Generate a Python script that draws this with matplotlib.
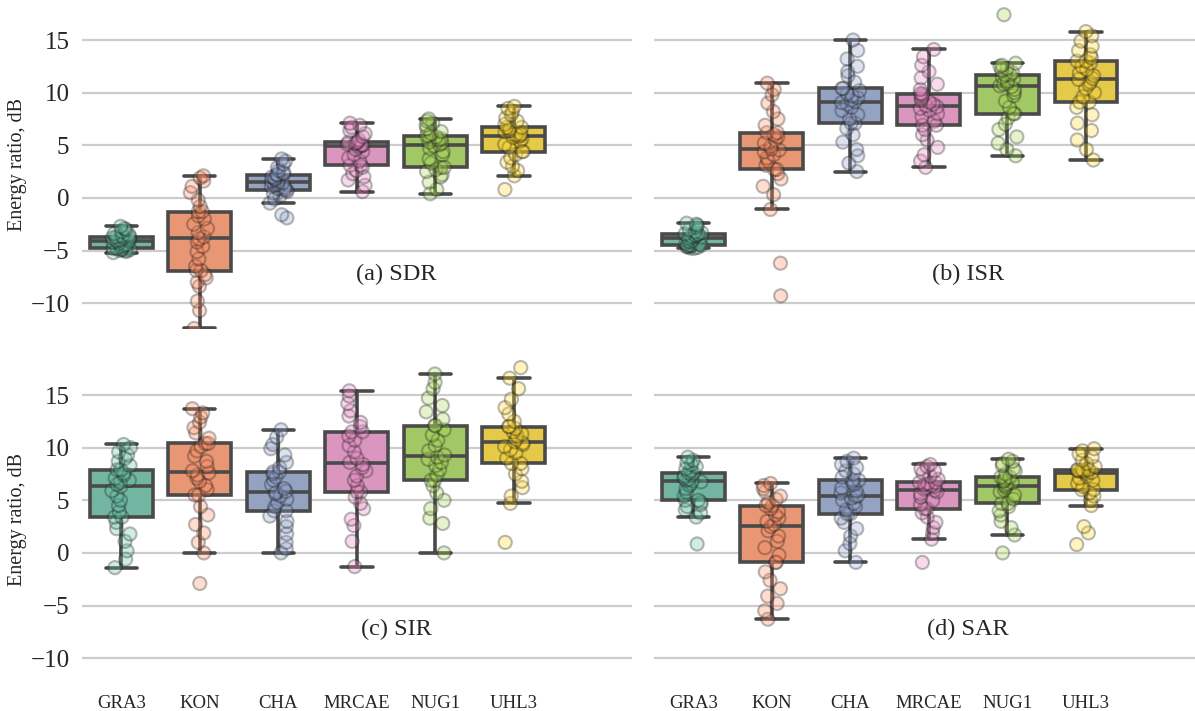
import numpy as np
import pandas as pd
import seaborn as sns
import matplotlib.pyplot as plt

methods = ["GRA3", "KON", "CHA", "MRCAE", "NUG1", "UHL3"]

# -------------- values (dB) ----------------------------------------------
sdr = {
    "GRA3": [-5.2, -5.1, -5.0, -5.0, -4.9, -4.9, -4.85, -4.8, -4.8, -4.6, -4.5, -4.4, -4.3, -4.2, -4.1,
             -4.1, -4.0, -4.0, -3.9, -3.8, -3.8, -3.7, -3.7, -3.6, -3.5, -3.4, -3.2, -3.0, -2.9, -2.7],
    "KON": [-12.4, -10.7, -9.8, -8.4, -8.0, -7.6, -7.3, -6.9, -6.9, -6.5, -5.8, -5.1, -4.6, -4.2, -3.9,
            -3.7, -3.3, -2.9, -2.5, -2.0, -1.7, -1.3, -1.3, -0.8, -0.2, 0.5, 1.1, 1.6, 1.9, 2.1],
    "CHA": [-1.9, -1.6, -0.5, -0.1, 0.2, 0.45, 0.6, 0.75, 0.8, 0.9, 1.0, 1.1, 1.2, 1.3, 1.45,
            1.55, 1.6, 1.7, 1.8, 1.9, 2.0, 2.2, 2.2, 2.3, 2.4, 2.6, 2.9, 3.2, 3.5, 3.7],
    "MRCAE": [0.6, 1.2, 1.7, 2.0, 2.3, 2.6, 2.9, 3.1, 3.1, 3.5, 3.8, 4.1, 4.4, 4.6, 4.85,
              4.95, 5.0, 5.05, 5.1, 5.15, 5.2, 5.3, 5.3, 5.5, 5.8, 6.1, 6.4, 6.7, 6.9, 7.1],
    "NUG1": [0.4, 0.8, 1.5, 2.0, 2.2, 2.5, 2.7, 2.9, 2.9, 3.3, 3.7, 4.1, 4.4, 4.7, 4.95,
             5.05, 5.2, 5.3, 5.5, 5.6, 5.8, 5.9, 5.9, 6.1, 6.3, 6.6, 6.9, 7.1, 7.3, 7.5],
    "UHL3": [0.8, 2.1, 2.6, 3.0, 3.4, 3.8, 4.1, 4.4, 4.4, 4.8, 5.1, 5.4, 5.6, 5.75, 5.85,
             5.95, 6.0, 6.1, 6.3, 6.4, 6.6, 6.7, 6.7, 7.0, 7.3, 7.6, 7.9, 8.2, 8.5, 8.7],
}
isr = {
    "GRA3": [-4.8, -4.75, -4.7, -4.65, -4.6, -4.55, -4.5, -4.5, -4.5, -4.4, -4.3, -4.2, -4.1, -4.0, -3.85,
             -3.75, -3.7, -3.65, -3.6, -3.55, -3.5, -3.4, -3.4, -3.3, -3.2, -3.0, -2.8, -2.6, -2.5, -2.4],
    "KON": [-9.3, -6.2, -1.1, 0.3, 1.1, 1.8, 2.3, 2.7, 2.7, 3.1, 3.5, 3.8, 4.1, 4.4, 4.55,
            4.65, 4.9, 5.2, 5.5, 5.8, 6.0, 6.2, 6.2, 6.9, 7.5, 8.2, 9.0, 9.8, 10.3, 10.9],
    "CHA": [2.5, 3.3, 4.0, 4.6, 5.3, 6.0, 6.6, 7.1, 7.1, 7.5, 7.9, 8.3, 8.6, 8.9, 9.05,
            9.15, 9.3, 9.5, 9.7, 9.9, 10.2, 10.4, 10.4, 11.0, 11.6, 12.0, 12.5, 13.2, 14.0, 15.0],
    "MRCAE": [2.9, 3.5, 4.1, 4.8, 5.5, 6.0, 6.5, 6.9, 6.9, 7.3, 7.7, 8.0, 8.3, 8.5, 8.65,
              8.75, 8.9, 9.1, 9.3, 9.5, 9.7, 9.9, 9.9, 10.3, 10.8, 11.4, 12.0, 12.6, 13.4, 14.1],
    "NUG1": [4.0, 4.6, 5.2, 5.8, 6.5, 7.0, 7.6, 8.0, 8.0, 8.6, 9.2, 9.7, 10.0, 10.3, 10.55,
             10.65, 10.8, 10.9, 11.1, 11.3, 11.5, 11.7, 11.7, 11.9, 12.1, 12.3, 12.5, 12.6, 12.8, 17.4],
    "UHL3": [3.6, 4.6, 5.5, 6.4, 7.1, 7.9, 8.6, 9.1, 9.1, 9.6, 10.0, 10.4, 10.8, 11.0, 11.25,
             11.35, 11.6, 11.9, 12.2, 12.5, 12.8, 13.0, 13.0, 13.3, 13.6, 14.0, 14.4, 14.9, 15.4, 15.8],
}
sir = {
    "GRA3": [-1.4, -0.6, 0.2, 1.1, 1.8, 2.3, 2.9, 3.4, 3.4, 3.9, 4.5, 5.0, 5.4, 5.9, 6.3,
             6.5, 6.7, 6.9, 7.1, 7.4, 7.6, 7.9, 7.9, 8.3, 8.7, 9.0, 9.3, 9.6, 10.0, 10.3],
    "KON": [-2.9, 0.0, 1.0, 1.9, 2.7, 3.6, 4.4, 5.5, 5.5, 6.0, 6.4, 6.8, 7.1, 7.4, 7.6,
            7.8, 8.2, 8.7, 9.2, 9.7, 10.1, 10.4, 10.4, 10.9, 11.4, 11.9, 12.4, 12.9, 13.3, 13.7],
    "CHA": [0.0, 0.4, 1.0, 1.8, 2.5, 3.0, 3.5, 4.0, 4.0, 4.4, 4.8, 5.1, 5.4, 5.6, 5.75,
            5.85, 6.1, 6.5, 6.9, 7.2, 7.5, 7.7, 7.7, 8.1, 8.6, 9.3, 9.9, 10.3, 11.0, 11.7],
    "MRCAE": [-1.3, 1.1, 2.6, 3.2, 4.2, 4.7, 5.3, 5.8, 5.8, 6.4, 6.9, 7.3, 7.8, 8.1, 8.4,
              8.6, 9.0, 9.6, 10.2, 10.7, 11.1, 11.5, 11.5, 12.0, 12.4, 13.0, 13.5, 14.2, 14.9, 15.4],
    "NUG1": [0.0, 2.8, 3.3, 4.2, 5.0, 5.7, 6.4, 6.9, 6.9, 7.4, 7.9, 8.3, 8.6, 8.9, 9.1,
             9.3, 9.7, 10.2, 10.7, 11.2, 11.7, 12.1, 12.1, 12.7, 13.4, 14.0, 14.7, 15.6, 16.2, 17.0],
    "UHL3": [1.0, 4.7, 5.4, 6.2, 6.8, 7.5, 8.0, 8.5, 8.5, 9.0, 9.5, 9.8, 10.1, 10.3, 10.45,
             10.55, 10.8, 11.1, 11.3, 11.5, 11.8, 12.0, 12.0, 12.5, 13.2, 13.8, 14.6, 15.6, 16.6, 17.6],
}
sar = {
    "GRA3": [0.85, 3.4, 3.8, 4.1, 4.4, 4.6, 4.8, 5.0, 5.0, 5.4, 5.8, 6.1, 6.4, 6.6, 6.75,
             6.85, 6.9, 7.0, 7.1, 7.3, 7.4, 7.6, 7.6, 7.8, 8.0, 8.2, 8.4, 8.6, 8.8, 9.1],
    "KON": [-6.3, -5.5, -4.8, -4.1, -3.4, -2.6, -1.8, -0.9, -0.9, -0.2, 0.5, 1.1, 1.6, 2.1, 2.5,
            2.7, 3.0, 3.3, 3.6, 3.9, 4.2, 4.5, 4.5, 4.8, 5.1, 5.4, 5.8, 6.1, 6.4, 6.6],
    "CHA": [-0.9, 0.2, 0.9, 1.6, 2.3, 2.9, 3.3, 3.7, 3.7, 4.1, 4.4, 4.7, 5.0, 5.2, 5.35,
            5.45, 5.7, 5.9, 6.2, 6.5, 6.7, 6.9, 6.9, 7.2, 7.5, 7.8, 8.1, 8.4, 8.7, 9.0],
    "MRCAE": [-0.9, 1.3, 1.9, 2.4, 2.9, 3.4, 3.8, 4.2, 4.2, 4.6, 5.0, 5.3, 5.6, 5.8, 5.95,
              6.05, 6.2, 6.3, 6.4, 6.5, 6.6, 6.7, 6.7, 7.0, 7.3, 7.6, 7.8, 8.0, 8.2, 8.4],
    "NUG1": [0.0, 1.7, 2.4, 3.0, 3.6, 4.0, 4.4, 4.7, 4.7, 5.1, 5.5, 5.8, 6.0, 6.2, 6.35,
             6.45, 6.6, 6.7, 6.8, 6.9, 7.1, 7.2, 7.2, 7.5, 7.8, 8.0, 8.3, 8.5, 8.7, 8.9],
    "UHL3": [0.8, 1.9, 2.5, 4.5, 5.0, 5.4, 5.7, 6.0, 6.0, 6.3, 6.6, 6.9, 7.1, 7.3, 7.55,
             7.65, 7.7, 7.75, 7.8, 7.85, 7.9, 7.9, 7.9, 8.2, 8.5, 8.8, 9.1, 9.4, 9.7, 9.9],
}
panel_titles = ["(a) SDR", "(b) ISR", "(c) SIR", "(d) SAR"]
# ------------------------------------------------------------------------

sns.set_theme(style="whitegrid")
plt.rcParams['font.family'] = ['Liberation Serif', 'DejaVu Serif']

np.random.seed(7)  # jitter of the strip points only
pal_box = sns.color_palette("Set2", 6, desat=0.75)
pal_pts = sns.color_palette("Set2", 6)
lc = '#4a4a4a'
lw = 2.6

fig = plt.figure(figsize=(11.95, 7.11), dpi=100)
# [left, bottom, width, height] in figure fractions
positions = [[0.0686, 0.5373, 0.460, 0.4627], [0.5473, 0.5373, 0.460, 0.4627],
             [0.0686, 0.0380, 0.460, 0.4627], [0.5473, 0.0380, 0.460, 0.4627]]

for k, (data, title) in enumerate(zip([sdr, isr, sir, sar], panel_titles)):
    ax = fig.add_axes(positions[k])
    bp = ax.boxplot([data[m] for m in methods], positions=range(len(methods)), widths=0.8,
                    patch_artist=True, showfliers=False,
                    boxprops=dict(edgecolor=lc, linewidth=lw),
                    medianprops=dict(color=lc, linewidth=lw),
                    whiskerprops=dict(color=lc, linewidth=lw),
                    capprops=dict(color=lc, linewidth=lw))
    for patch, c in zip(bp['boxes'], pal_box):
        patch.set_facecolor(c)

    df = pd.DataFrame([(m, v) for m in methods for v in data[m]], columns=['method', 'value'])
    n_before = len(ax.collections)
    sns.stripplot(data=df, x='method', y='value', order=methods, hue='method', hue_order=methods,
                  palette=pal_pts, size=9.5, alpha=0.3, edgecolor='k', linewidth=1.5,
                  jitter=0.12, legend=False, ax=ax)
    for coll in ax.collections[n_before:]:
        coll.set_zorder(4)

    ax.text(3.5, -7.3, title, ha='center', va='center', fontsize=17.5)

    ax.set_xlim(-0.5, 6.5)
    ax.set_ylim(-12.45, 18.8)
    ax.set_yticks([-10, -5, 0, 5, 10, 15])
    ax.set_xticks(range(len(methods)))
    ax.set_xticklabels(methods)
    ax.set_xlabel("")
    ax.set_ylabel("")
    ax.grid(axis='y', color='#cccccc', linewidth=1.6)
    ax.grid(axis='x', visible=False)
    for s in ax.spines.values():
        s.set_visible(False)
    ax.tick_params(axis='y', length=0, pad=9, labelsize=18)
    ax.tick_params(axis='x', length=0, pad=8, labelsize=13.5)

    if k < 2:
        ax.tick_params(axis='x', labelbottom=False)
    if k % 2 == 1:
        ax.tick_params(axis='y', labelleft=False)
    else:
        ax.set_ylabel("Energy ratio, dB", fontsize=14.5)
        ax.yaxis.set_label_coords(-0.1, 0.5)

plt.savefig("out.png", dpi=100)
